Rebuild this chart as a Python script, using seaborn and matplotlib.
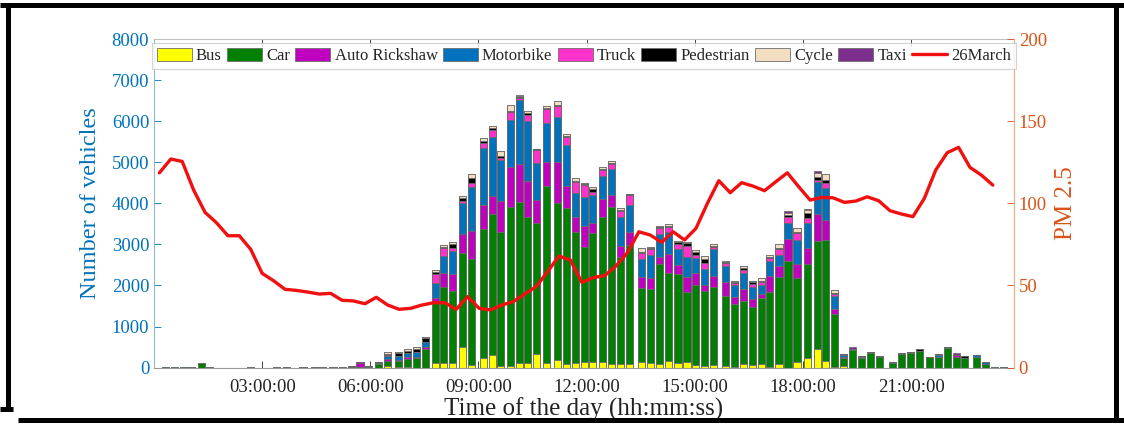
import numpy as np
import pandas as pd
import matplotlib
matplotlib.use("Agg")
import matplotlib.pyplot as plt
import seaborn as sns
from matplotlib.patches import Patch
from matplotlib.lines import Line2D
from matplotlib.ticker import FuncFormatter, FixedLocator, MultipleLocator

# ---------------- data ----------------
times = ["00:19", "00:34", "00:49", "01:03", "01:19", "01:33", "02:40", "03:24", "03:40", "04:08", "04:28", "04:41", "04:58", "05:14", "05:29", "05:43", "05:56",
         "06:13", "06:28", "06:47", "07:02", "07:17", "07:32", "07:49", "08:02", "08:17", "08:33", "08:48", "09:08", "09:23", "09:37", "09:53", "10:08", "10:22",
         "10:37", "10:53", "11:12", "11:26", "11:41", "11:56", "12:10", "12:27", "12:41", "12:56", "13:11", "13:31", "13:46", "14:01", "14:16", "14:32", "14:47",
         "15:01", "15:16", "15:31", "15:51", "16:06", "16:21", "16:36", "16:51", "17:05", "17:20", "17:35", "17:50", "18:08", "18:24", "18:38", "18:53", "19:08",
         "19:23", "19:38", "19:53", "20:08", "20:29", "20:44", "20:59", "21:14", "21:30", "21:45", "22:00", "22:15", "22:29", "22:49", "23:04", "23:19", "23:34"]

bus = [0] * 17 + \
      [0, 30, 10, 10, 0, 0, 105, 105, 105, 495, 57, 243, 300, 41, 41, 122, 105] + \
      [333, 105, 187, 89, 122, 146, 146, 146, 89, 81, 81, 130, 122, 89, 162, 122, 146] + \
      [65, 41, 73, 41, 24, 89, 57, 97, 24, 89, 0, 146, 227, 454, 170, 24, 41] + \
      [0] * 17

car = [8, 8, 8, 8, 115, 8, 8, 8, 8, 8, 8, 8, 8, 8, 20, 16, 16] + \
      [80, 130, 150, 200, 230, 446, 1500, 1849, 1752, 2287, 2587, 3122, 3431, 3268, 3860, 3917, 3568] + \
      [3179, 4323, 3812, 3787, 3171, 2782, 3122, 3512, 3812, 2620, 2903, 1800, 1784, 2433, 2149, 2149, 1703] + \
      [1946, 1833, 1882, 1711, 1517, 1541, 1411, 1590, 1809, 2125, 2603, 2028, 2295, 2628, 2936, 1273, 187] + \
      [430, 227, 349, 268, 105, 332, 349, 414, 251, 268, 487, 268, 243, 268, 81, 8, 8]

auto_rickshaw = [0] * 15 + [100, 0] + \
      [0, 40, 20, 40, 40, 50, 80, 357, 414, 462, 689, 584, 454, 754, 989, 908, 868] + \
      [568, 584, 1014, 551, 381, 527, 243, 446, 300, 260, 324, 268, 268, 178, 446, 219, 349] + \
      [284, 138, 284, 341, 170, 276, 195, 105, 406, 260, 519, 341, 381, 649, 487, 130, 41] + \
      [0, 0, 0, 0, 0, 0, 0, 0, 0, 0, 0, 41, 0, 0, 0, 0, 0]

motorbike = [0] * 17 + \
      [40, 90, 100, 105, 120, 140, 381, 414, 568, 754, 1071, 1411, 1419, 989, 1135, 1565, 1460] + \
      [908, 957, 1079, 989, 568, 690, 689, 560, 633, 714, 649, 438, 568, 551, 551, 397, 487] + \
      [365, 381, 641, 389, 300, 406, 308, 219, 365, 268, 389, 592, 624, 795, 787, 316, 32] + \
      [24, 41, 0, 0, 24, 0, 0, 0, 0, 41, 0, 0, 0, 41, 49, 0, 0]

truck = [0] * 17 + \
      [0, 10, 10, 0, 0, 0, 211, 178, 81, 65, 97, 114, 178, 49, 203, 65, 162] + \
      [308, 341, 276, 203, 284, 300, 81, 146, 122, 138, 243, 162, 138, 138, 105, 122, 276] + \
      [81, 162, 65, 57, 41, 65, 65, 65, 57, 138, 162, 162, 105, 41, 122, 41, 0] + \
      [0] * 17

pedestrian = [8, 8, 8, 8, 0, 8, 8, 8, 8, 8, 8, 8, 8, 8, 20, 30, 30] + \
      [20, 40, 60, 50, 65, 80, 49, 41, 89, 57, 105, 49, 65, 57, 24, 16, 41] + \
      [16, 24, 24, 24, 24, 24, 57, 24, 32, 24, 16, 24, 24, 24, 24, 41, 65] + \
      [65, 81, 16, 24, 24, 41, 41, 24, 41, 41, 41, 41, 122, 81, 65, 41, 32] + \
      [0, 16, 41, 16, 0, 16, 41, 41, 16, 16, 24, 0, 41, 0, 0, 0, 0]

cycle = [0] * 17 + \
      [0, 30, 40, 55, 55, 40, 49, 32, 57, 57, 97, 73, 41, 122, 154, 24, 49] + \
      [8, 32, 105, 57, 57, 24, 49, 41, 32, 40, 8, 81, 24, 32, 57, 32, 41] + \
      [57, 81, 41, 32, 32, 57, 41, 73, 41, 81, 57, 81, 81, 81, 138, 65, 0] + \
      [0] * 17

taxi = [0] * 17 + \
      [0] * 15 + [16, 0] + \
      [0] * 17 + \
      [0, 0, 0, 0, 0, 0, 0, 0, 0, 0, 49, 0, 24, 57, 0, 0, 0] + \
      [41, 0, 0, 0, 0, 0, 0, 0, 0, 0, 0, 41, 0, 0, 0, 0, 0]

# PM 2.5 series (26 March), one reading every 19 minutes from 00:09
pm_start = "00:09"
pm_step_minutes = 19
pm25 = [118.6, 127.0, 125.5, 108.1, 94.5, 88.2, 80.3, 80.3, 72.0, 57.4,
        52.9, 47.7, 47.0, 46.0, 44.8, 45.2, 41.0, 40.6, 38.9, 42.8,
        38.1, 35.5, 36.1, 38.1, 39.5, 39.5, 35.5, 43.2, 36.1, 35.1,
        38.1, 40.2, 44.8, 49.3, 58.4, 67.9, 65.5, 51.9, 54.8, 56.0,
        61.9, 70.0, 82.7, 80.7, 76.3, 82.7, 77.7, 84.8, 100.0, 113.8,
        106.5, 112.6, 110.5, 107.7, 113.2, 118.6, 110.1, 102.0, 103.6, 103.4,
        100.6, 101.4, 104.0, 101.6, 95.5, 93.5, 91.9, 103.0, 120.3, 130.8,
        134.1, 121.9, 117.2, 111.1]

categories = ["Bus", "Car", "Auto Rickshaw", "Motorbike", "Truck", "Pedestrian", "Cycle", "Taxi"]
series = [bus, car, auto_rickshaw, motorbike, truck, pedestrian, cycle, taxi]
colors = ["#FFFF00", "#008000", "#BF00BF", "#0072BD", "#FF33CC", "#000000", "#F3DEC2", "#7E2F8E"]

# ---------------- prep ----------------
def to_hours(s):
    h, m = s.split(":")
    return int(h) + int(m) / 60.0

hours = np.array([to_hours(t) for t in times])
pm_hours = to_hours(pm_start) + np.arange(len(pm25)) * pm_step_minutes / 60.0

stack = np.cumsum(np.array(series, dtype=float), axis=0)

sns.set_theme(style="white")
plt.rcParams["font.family"] = ["Liberation Serif", "DejaVu Serif"]

fig = plt.figure(figsize=(11.24, 4.25), dpi=100)
ax = fig.add_axes([0.137, 0.135, 0.765, 0.773])

bar_width_hours = 0.2
min_gap = np.min(np.diff(np.unique(hours)))
rel_width = bar_width_hours / min_gap

for i in range(len(categories) - 1, -1, -1):
    sns.barplot(x=hours, y=stack[i], native_scale=True, orient="x",
                color=colors[i], saturation=1, width=rel_width,
                edgecolor="#6e6e6e", linewidth=0.6, errorbar=None, ax=ax)

ax.set_xlim(0, 23.85)
ax.set_ylim(0, 8000)
ax.xaxis.set_major_locator(FixedLocator([3, 6, 9, 12, 15, 18, 21]))
ax.xaxis.set_major_formatter(FuncFormatter(lambda v, p: f"{int(round(v)):02d}:00:00"))
ax.yaxis.set_major_locator(MultipleLocator(1000))

left_col = "#0072BD"
right_col = "#D95319"

ax.tick_params(axis="x", direction="in", top=True, bottom=True, length=5,
               labelsize=13.5, colors="#222222", pad=8, width=0.6)
ax.tick_params(axis="y", direction="in", left=True, length=5, labelsize=13.5,
               colors=left_col, width=0.6)
ax.set_xlabel("Time of the day (hh:mm:ss)", fontsize=18, color="#222222", labelpad=1)
ax.set_ylabel("Number of vehicles", fontsize=17.5, color=left_col, labelpad=8)

for s, c in [("left", "#8fb8d6"), ("bottom", "#9a9a9a"), ("top", "#c0c0c0"), ("right", "#e0b090")]:
    ax.spines[s].set_color(c)
    ax.spines[s].set_linewidth(0.8)

ax2 = ax.twinx()
sns.lineplot(x=pm_hours, y=pm25, ax=ax2, color="#F01010", linewidth=2.4, sort=False)
ax2.set_ylim(0, 200)
ax2.set_xlim(0, 23.85)
ax2.yaxis.set_major_locator(MultipleLocator(50))
ax2.tick_params(axis="y", direction="in", right=True, length=5, labelsize=13.5,
                colors=right_col, width=0.6)
ax2.set_ylabel("PM 2.5", fontsize=18, color=right_col, labelpad=6)
for s in ax2.spines.values():
    s.set_visible(False)
ax2.spines["right"].set_visible(True)
ax2.spines["right"].set_color("#e0b090")
ax2.spines["right"].set_linewidth(0.8)

handles = [Patch(facecolor=c, edgecolor="#6e6e6e", linewidth=0.6) for c in colors]
handles.append(Line2D([0], [0], color="#F01010", linewidth=2.4))
labels = categories + ["26March"]
leg = ax2.legend(handles, labels, ncol=9, loc="upper center",
                 bbox_to_anchor=(0.5, 0.987),
                 fontsize=12, handlelength=2.1, handleheight=0.75,
                 handletextpad=0.25, columnspacing=0.32, borderpad=0.3,
                 borderaxespad=0, frameon=True, fancybox=False)
leg.get_frame().set_edgecolor("#c8c8c8")
leg.get_frame().set_linewidth(0.8)

# outer black frame of the figure
W, H = 1124.0, 425.0
def fx(px): return px / W
def fy(py): return 1 - py / H
frame_lines = [((0, 1124), (5, 5)), ((8, 8), (5, 411)), ((1116, 1116), (5, 421)),
               ((18, 1124), (420, 420)), ((0, 13), (409, 409))]
for (x0, x1), (y0, y1) in frame_lines:
    fig.add_artist(Line2D([fx(x0), fx(x1)], [fy(y0), fy(y1)], color="black",
                          linewidth=3.6, transform=fig.transFigure, solid_capstyle="butt"))

fig.savefig("out.png", dpi=100)
